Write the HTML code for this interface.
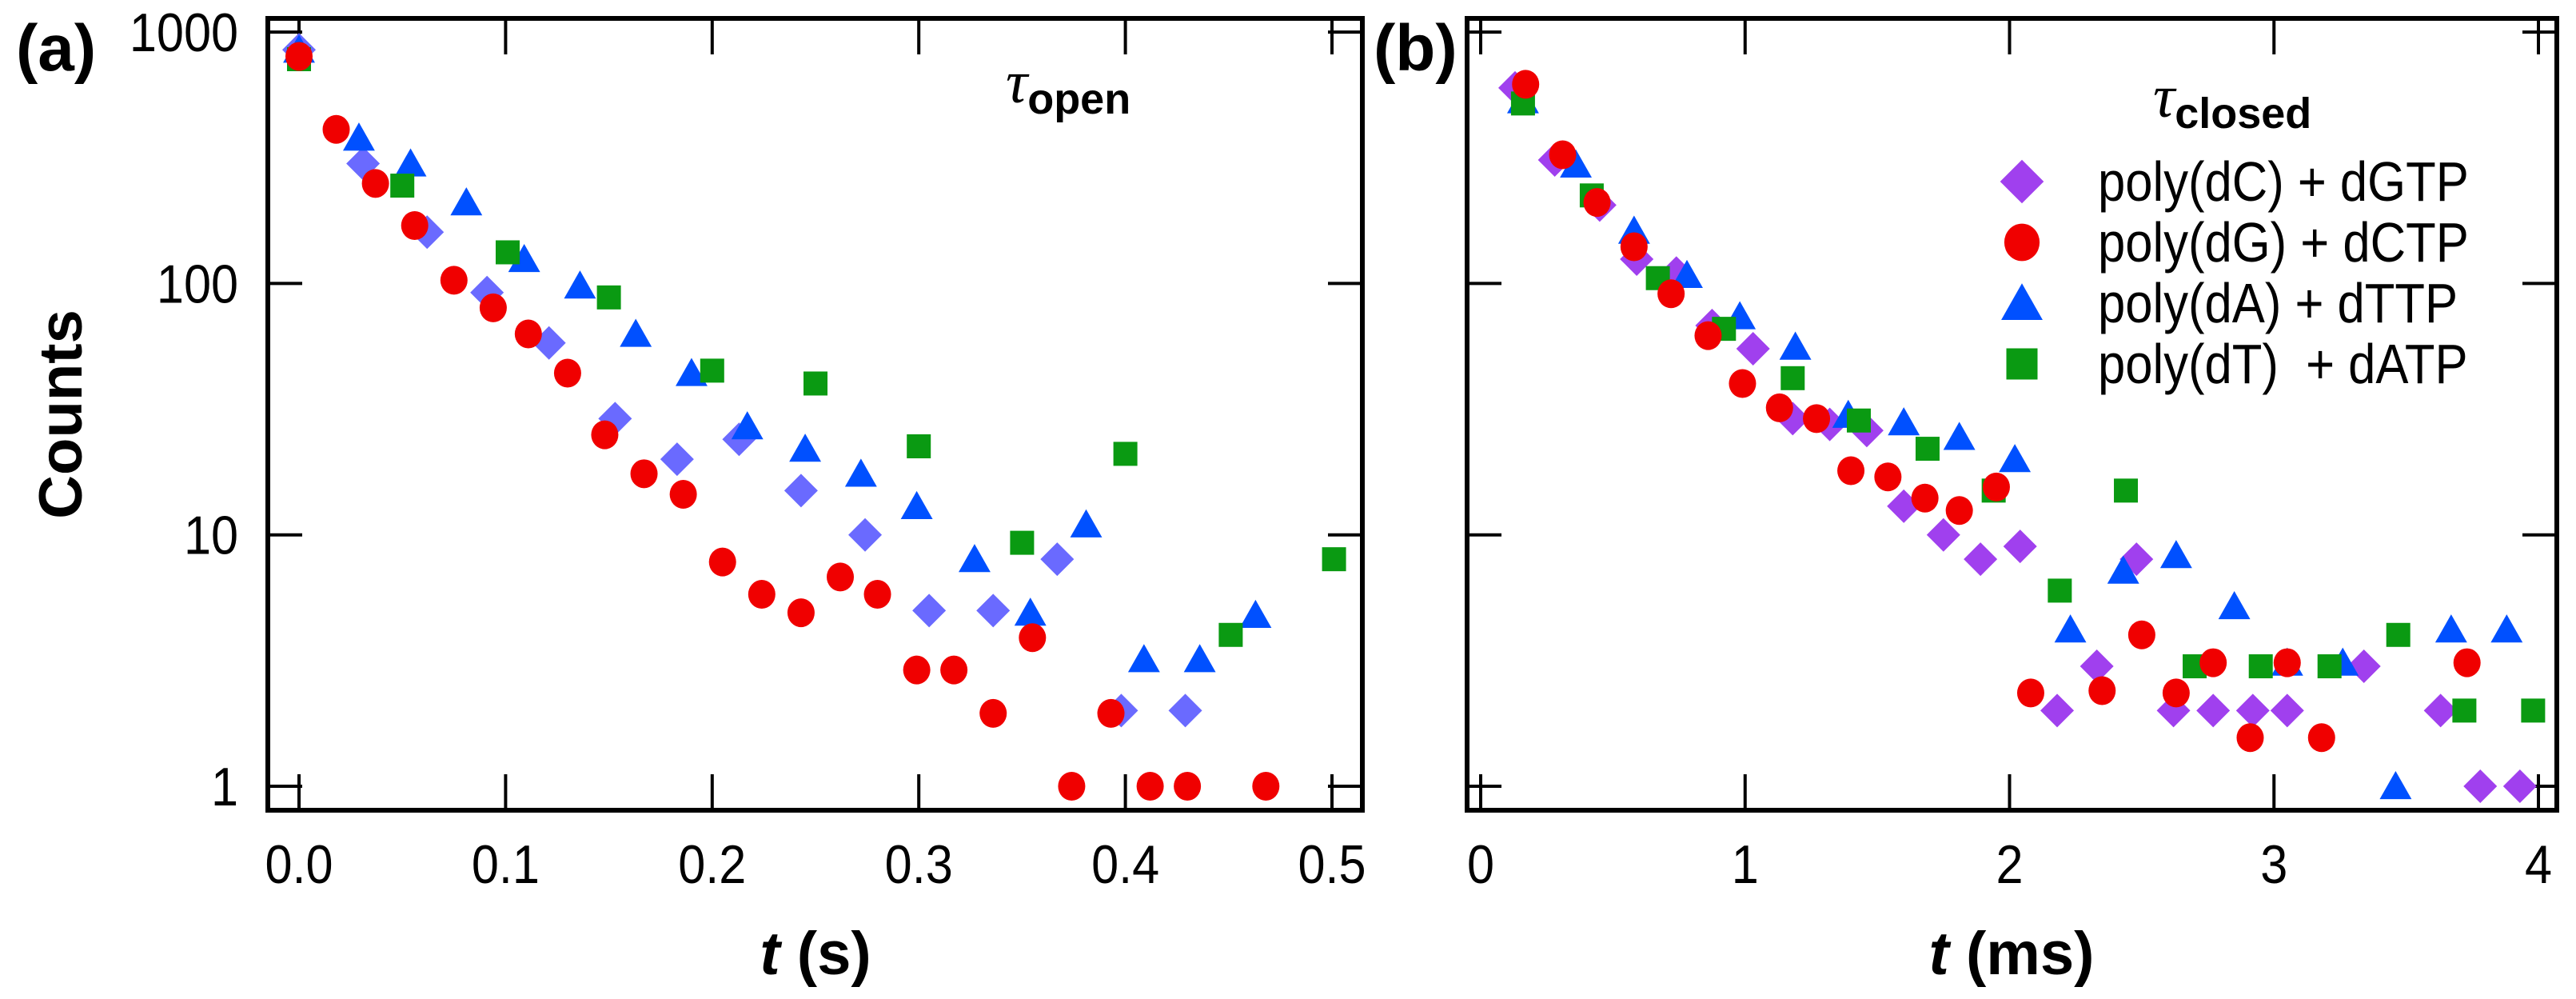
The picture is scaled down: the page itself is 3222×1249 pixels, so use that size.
<!DOCTYPE html>
<html><head><meta charset="utf-8"><style>
html,body{margin:0;padding:0;background:#fff;}
svg{display:block;}
text{font-family:"Liberation Sans",Arial,sans-serif;}
.pre{white-space:pre;}
</style></head><body>
<svg id="fig" width="3222" height="1249" viewBox="0 0 3222 1249" xmlns="http://www.w3.org/2000/svg">
<rect width="3222" height="1249" fill="#fff"/>
<text x="20" y="88" font-size="82" font-weight="bold">(a)</text>
<text x="1718" y="88" font-size="82" font-weight="bold">(b)</text>
<text transform="translate(102,518) rotate(-90)" text-anchor="middle" font-size="76" font-weight="bold">Counts</text>
<text x="1020" y="1218" text-anchor="middle" font-size="76" font-weight="bold"><tspan font-style="italic">t</tspan> (s)</text>
<text x="2516" y="1218" text-anchor="middle" font-size="76" font-weight="bold"><tspan font-style="italic">t</tspan> (ms)</text>
<text x="1258" y="128" font-size="64" font-weight="bold"><tspan font-style="italic" font-family="Liberation Serif" font-weight="normal" font-size="76">τ</tspan><tspan dy="14" font-size="54">open</tspan></text>
<text x="2693" y="146" font-size="64" font-weight="bold"><tspan font-style="italic" font-family="Liberation Serif" font-weight="normal" font-size="76">τ</tspan><tspan dy="14" font-size="54">closed</tspan></text>
<g id="plots"></g>
<g id="legend"></g>
</svg>
<script>
// Panel (a) data: t in s
const aDiaT=[0,0.031,0.062,0.091,0.121,0.153,0.183,0.213,0.243,0.274,0.305,0.336,0.367,0.398,0.429];
const aDiaC=[850,300,160,92,58,29,20,24,15,10,5,5,8,2,2];
const aCirT=[0,0.018,0.037,0.056,0.075,0.094,0.111,0.13,0.148,0.167,0.186,0.205,0.224,0.243,0.262,0.28,0.299,0.317,0.336,0.355,0.374,0.393,0.412,0.43,0.468];
const aCirC=[800,410,250,170,103,80,63,44,25,17.5,14.5,7.8,5.8,4.9,6.8,5.8,2.9,2.9,1.95,3.9,1,1.95,1,1,1];
const aTriT=[0,0.029,0.054,0.081,0.109,0.136,0.163,0.19,0.217,0.245,0.272,0.299,0.327,0.354,0.381,0.409,0.436,0.463];
const aTriC=[850,380,300,210,125,98,63,44,27,22,17.5,13,8,4.9,11,3.2,3.2,4.8];
const aSqT=[0,0.05,0.101,0.15,0.2,0.25,0.3,0.35,0.4,0.451,0.501];
const aSqC=[780,245,133,88,45,40,22.5,9.3,21,4,8];
// Panel (b) data: t in ms
const bDiaT=[0.13,0.28,0.45,0.59,0.74,0.875,1.03,1.18,1.32,1.46,1.6,1.75,1.89,2.04,2.18,2.33,2.48,2.62,2.77,2.92,3.05,3.34,3.63,3.78,3.93];
const bDiaC=[600,310,205,125,110,68,55,29,27.5,26,13,10,8,9,2,3,8,2,2,2,2,3,2,1,1];
const bCirT=[0.17,0.31,0.44,0.58,0.72,0.86,0.99,1.13,1.27,1.4,1.54,1.68,1.81,1.95,2.08,2.35,2.5,2.63,2.77,2.91,3.05,3.18,3.73];
const bCirC=[620,325,210,140,91,62,40,32,29,18,17,14,12.5,15.5,2.35,2.4,4,2.35,3.1,1.56,3.1,1.56,3.1];
const bTriT=[0.16,0.36,0.58,0.78,0.98,1.19,1.39,1.6,1.81,2.02,2.23,2.43,2.63,2.85,3.05,3.26,3.46,3.67,3.88];
const bTriC=[535,297,162,108,74,56,30,28,24.5,20,4.2,7.2,8.3,5.2,3.1,3.1,1,4.2,4.2];
const bSqT=[0.16,0.42,0.67,0.92,1.18,1.43,1.69,1.94,2.19,2.44,2.7,2.95,3.21,3.47,3.72,3.98];
const bSqC=[520,224,105,66,42,28.5,22,15,6,15,3,3,3,4,2,2];
const aXTicks=[0,0.1,0.2,0.3,0.4,0.5];
const aXLabels=["0.0","0.1","0.2","0.3","0.4","0.5"];
const bXTicks=[0,1,2,3,4];
const bXLabels=["0","1","2","3","4"];
const yTicks=[1,10,100,1000];
const yLabels=["1","10","100","1000"];
const legendLabels=["poly(dC) + dGTP","poly(dG) + dCTP","poly(dA) + dTTP","poly(dT)  + dATP"];

const NS="http://www.w3.org/2000/svg";
const root=document.getElementById('plots');
const TOP=23,BOT=1013;
function yScale(c){return 983-Math.log10(c)*314.3;}
function mk(tag,attrs,parent){const e=document.createElementNS(NS,tag);for(const k in attrs)e.setAttribute(k,attrs[k]);(parent||root).appendChild(e);return e;}
function marker(shape,x,y,color,g,s){
  s=s||1;let e;
  if(shape==='dia'){const h=21*s;e=mk('polygon',{points:`${x},${y-h} ${x+h},${y} ${x},${y+h} ${x-h},${y}`,fill:color},g);}
  else if(shape==='cir'){e=mk('ellipse',{cx:x,cy:y,rx:17*s,ry:18*s,fill:color},g);}
  else if(shape==='tri'){const h=19*s;e=mk('polygon',{points:`${x},${y-h} ${x+h*1.05},${y+h*0.85} ${x-h*1.05},${y+h*0.85}`,fill:color},g);}
  else {const h=15*s;e=mk('rect',{x:x-h,y:y-h,width:2*h,height:2*h,fill:color},g);}
  return e;
}
function narrowText(x,y,anchor,size,str,g){
  const t=mk('text',{transform:`translate(${x},${y}) scale(0.9,1)`,'text-anchor':anchor,'font-size':size},g);
  t.textContent=str;return t;
}
function panel(id,L,R,xs,xT,xL,series){
  const g=mk('g',{});
  
  
  xT.forEach((t,i)=>{const x=xs(t);
    const tk=mk('line',{x1:x,y1:BOT,x2:x,y2:BOT-45,stroke:'#000','stroke-width':4},g);
    
    const tt=mk('line',{x1:x,y1:TOP,x2:x,y2:TOP+45,stroke:'#000','stroke-width':4},g);
    
    const lb=narrowText(x,1104,'middle',68,xL[i],g);
    
  });
  yTicks.forEach((c,i)=>{const y=yScale(c);
    const a=mk('line',{x1:L,y1:y,x2:L+43,y2:y,stroke:'#000','stroke-width':4},g);
    
    const b=mk('line',{x1:R,y1:y,x2:R-43,y2:y,stroke:'#000','stroke-width':4},g);
    
    if(id==='panel-a'){const lb=narrowText(298,y+24,'end',68,yLabels[i],g);
      }
  });
  const fr=mk('rect',{x:L,y:TOP,width:R-L,height:BOT-TOP,fill:'none',stroke:'#000','stroke-width':6},g);
  
  series.forEach(s=>{
    const sg=mk('g',{},g);
    
    
    s.t.forEach((t,i)=>{const m=marker(s.shape,xs(t),yScale(s.c[i]),s.color,sg);
      
      });
  });
}
const xa=t=>374+t*2584;
const xb=t=>1852+t*330.75;
panel('panel-a',335,1704,xa,aXTicks,aXLabels,[
  {name:'series-dc-dgtp',shape:'dia',color:'#6a6aff',t:aDiaT,c:aDiaC},
  {name:'series-da-dttp',shape:'tri',color:'#0050ff',t:aTriT,c:aTriC},
  {name:'series-dt-datp',shape:'sq',color:'#0a9a12',t:aSqT,c:aSqC},
  {name:'series-dg-dctp',shape:'cir',color:'#f00000',t:aCirT,c:aCirC}
]);
panel('panel-b',1835,3198,xb,bXTicks,bXLabels,[
  {name:'series-dc-dgtp',shape:'dia',color:'#a040ee',t:bDiaT,c:bDiaC},
  {name:'series-da-dttp',shape:'tri',color:'#0050ff',t:bTriT,c:bTriC},
  {name:'series-dt-datp',shape:'sq',color:'#0a9a12',t:bSqT,c:bSqC},
  {name:'series-dg-dctp',shape:'cir',color:'#f00000',t:bCirT,c:bCirC}
]);
const lg=document.getElementById('legend');
const shapes=['dia','cir','tri','sq'],cols=['#a040ee','#f00000','#0050ff','#0a9a12'];
legendLabels.forEach((lab,i)=>{const y=227+i*76;
  const m=marker(shapes[i],2529,y,cols[i],lg,1.3);
  
  
  const t=mk('text',{transform:`translate(2624,${y+24}) scale(0.88,1)`,'font-size':70,'class':'pre'},lg);
  t.textContent=lab;
  
  
});
</script>
</body></html>
